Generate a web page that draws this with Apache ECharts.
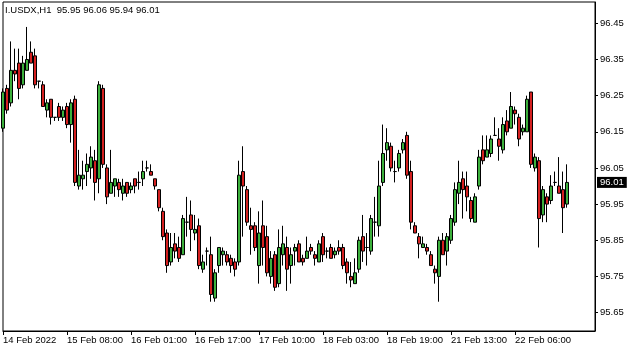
<!DOCTYPE html>
<html><head><meta charset="utf-8">
<script src="https://cdn.jsdelivr.net/npm/echarts@6/dist/echarts.min.js"></script>
<style>html,body{margin:0;padding:0;background:#fff}#c{width:635px;height:352px}</style>
</head><body><div id="c"></div>
<script>
const titleText = 'I.USDX,H1  95.95 96.06 95.94 96.01';
const tickLabels = ['14 Feb 2022','15 Feb 08:00','16 Feb 01:00','16 Feb 17:00','17 Feb 10:00','18 Feb 03:00','18 Feb 19:00','21 Feb 13:00','22 Feb 06:00'];
const yTicks = [95.65,95.75,95.85,95.95,96.05,96.15,96.25,96.35,96.45];
const lastPrice = 96.01;

const open = [96.16,96.27,96.23,96.32,96.34,96.28,96.32,96.37,96.36,96.29,96.28,96.21,96.24,96.19,96.22,96.19,96.22,96.17,96.24,96.00,
96.02,96.04,96.05,96.07,96.02,96.27,96.05,95.98,96.00,96.01,95.98,96.01,95.99,96.02,96.01,96.02,96.05,96.04,96.02,95.99,
95.93,95.87,95.79,95.84,95.83,95.81,95.90,95.92,95.87,95.89,95.77,95.82,95.81,95.69,95.78,95.81,95.81,95.80,95.79,95.79,
96.04,95.99,95.89,95.89,95.78,95.89,95.86,95.75,95.81,95.73,95.81,95.83,95.78,95.82,95.84,95.80,95.80,95.83,95.81,95.79,
95.86,95.82,95.83,95.81,95.83,95.83,95.79,95.75,95.73,95.77,95.86,95.83,95.82,95.90,95.89,96.01,96.10,96.11,96.04,96.05,
96.10,96.14,96.04,95.89,95.86,95.83,95.83,95.81,95.77,95.75,95.85,95.82,95.85,95.90,95.98,96.02,96.00,95.96,95.90,96.00,
96.10,96.08,96.09,96.14,96.13,96.10,96.18,96.16,96.21,96.19,96.15,96.15,96.26,96.05,96.07,95.92,95.97,95.96,96.01,96.00,
95.99,95.95];
const high = [96.27,96.28,96.40,96.38,96.38,96.36,96.44,96.40,96.38,96.29,96.29,96.24,96.24,96.19,96.23,96.22,96.23,96.24,96.25,96.10,
96.07,96.09,96.11,96.10,96.29,96.28,96.06,96.10,96.02,96.02,96.02,96.01,96.01,96.02,96.04,96.07,96.07,96.06,96.02,95.99,
95.94,95.88,95.87,95.87,95.86,95.92,95.97,95.96,95.92,95.91,95.81,95.83,95.86,95.77,95.83,95.83,95.82,95.81,95.80,96.07,
96.11,96.00,95.94,95.90,95.93,95.96,95.89,95.82,95.82,95.88,95.89,95.86,95.83,95.84,95.85,95.81,95.86,95.84,95.82,95.85,
95.87,95.83,95.84,95.83,95.85,95.84,95.80,95.79,95.80,95.86,95.92,95.87,95.92,95.97,96.07,96.17,96.16,96.12,96.07,96.10,
96.13,96.15,96.07,95.90,95.87,95.86,95.84,95.82,95.78,95.86,95.87,95.87,95.92,96.01,96.07,96.04,96.04,95.97,95.98,96.10,
96.14,96.14,96.14,96.19,96.16,96.19,96.21,96.26,96.22,96.20,96.17,96.25,96.26,96.09,96.08,96.00,95.98,96.03,96.04,96.08,
96.04,96.06];
const low = [96.15,96.20,96.22,96.29,96.24,96.27,96.32,96.34,96.27,96.27,96.22,96.19,96.17,96.18,96.18,96.18,96.16,96.12,96.00,95.99,
95.99,96.00,96.02,95.96,95.98,96.05,95.95,95.98,95.97,95.97,95.96,95.97,95.98,95.98,95.99,96.00,96.04,96.03,95.99,95.93,
95.85,95.76,95.78,95.80,95.79,95.81,95.86,95.82,95.85,95.77,95.76,95.78,95.68,95.68,95.76,95.78,95.78,95.76,95.75,95.78,
95.86,95.89,95.81,95.82,95.73,95.78,95.75,95.73,95.71,95.72,95.78,95.71,95.73,95.78,95.79,95.78,95.80,95.81,95.78,95.79,
95.79,95.80,95.80,95.80,95.81,95.77,95.73,95.72,95.73,95.76,95.79,95.78,95.81,95.86,95.86,96.00,96.07,96.04,96.01,96.04,
96.09,96.02,95.88,95.87,95.80,95.83,95.81,95.78,95.73,95.68,95.81,95.78,95.84,95.89,95.95,95.91,95.93,95.90,95.90,95.99,
96.06,96.08,96.08,96.14,96.07,96.09,96.14,96.16,96.17,96.11,96.14,96.15,96.05,96.04,95.83,95.90,95.90,95.95,96.00,95.98,
95.87,95.94];
const close = [96.26,96.21,96.32,96.31,96.27,96.34,96.35,96.34,96.28,96.29,96.22,96.23,96.19,96.19,96.19,96.21,96.17,96.23,96.01,96.03,
96.03,96.06,96.08,96.01,96.28,96.06,95.97,96.01,96.02,95.99,96.00,95.98,96.00,96.00,96.01,96.04,96.05,96.03,96.00,95.94,
95.86,95.78,95.83,95.82,95.80,95.91,95.90,95.88,95.88,95.78,95.79,95.82,95.70,95.76,95.83,95.82,95.79,95.78,95.77,96.03,
96.00,95.90,95.88,95.83,95.87,95.83,95.76,95.80,95.72,95.83,95.84,95.77,95.81,95.83,95.79,95.79,95.82,95.82,95.80,95.84,
95.81,95.82,95.80,95.82,95.82,95.78,95.76,95.74,95.76,95.85,95.82,95.83,95.91,95.90,96.00,96.09,96.12,96.05,96.04,96.09,
96.12,96.03,95.90,95.87,95.84,95.84,95.82,95.78,95.76,95.85,95.81,95.86,95.91,95.99,96.01,95.99,95.97,95.91,95.97,96.08,
96.07,96.10,96.13,96.14,96.11,96.17,96.15,96.22,96.20,96.13,96.16,96.24,96.06,96.08,95.91,95.99,95.95,96.00,96.01,95.98,
95.94,96.01];

const SLOTS = 149;
const categories = [];
for (let i = 0; i < SLOTS; i++) {
  categories.push(i % 16 === 0 && i / 16 < tickLabels.length ? tickLabels[i / 16] : '');
}
const candles = open.map((o, i) => [o, close[i], low[i], high[i]]);
const showTick = (i) => i % 16 === 0 && i / 16 < tickLabels.length;
const FONT = 'Liberation Sans, Arial, sans-serif';

const chart = echarts.init(document.getElementById('c'), null, {renderer: 'canvas'});
chart.setOption({
  animation: false,
  backgroundColor: '#fff',
  title: {
    text: titleText, left: 5, top: 5, padding: 0,
    textStyle: {fontSize: 9.5, fontWeight: 'normal', color: '#000', fontFamily: FONT}
  },
  grid: {left: 3, right: 40, top: 2, bottom: 21, show: true, borderColor: '#000', borderWidth: 1, backgroundColor: '#fff'},
  xAxis: {
    type: 'category', data: categories, boundaryGap: false,
    axisLine: {lineStyle: {color: '#000', width: 1}},
    axisTick: {show: true, interval: showTick, length: 4, lineStyle: {color: '#000'}},
    axisLabel: {interval: showTick, align: 'left', margin: 4, color: '#000', fontSize: 9.5, fontFamily: FONT},
    splitLine: {show: false}
  },
  yAxis: {
    type: 'value', position: 'right', min: 95.599, max: 96.509, scale: true,
    axisLine: {show: true, lineStyle: {color: '#000', width: 1}},
    axisTick: {show: true, length: 3, customValues: yTicks, lineStyle: {color: '#000'}},
    axisLabel: {customValues: yTicks, formatter: (v) => v.toFixed(2), margin: 5, color: '#000', fontSize: 9.5, fontFamily: FONT},
    splitLine: {show: false}
  },
  series: [{
    type: 'candlestick',
    data: candles,
    barWidth: 3,
    itemStyle: {color: '#3cb03c', color0: '#d42020', borderColor: '#000', borderColor0: '#000', borderColorDoji: '#000', borderWidth: 1},
    emphasis: {disabled: true},
    markLine: {
      silent: true, symbol: ['none', 'none'],
      data: [{yAxis: lastPrice}],
      lineStyle: {color: 'rgba(0,0,0,0)', width: 0},
      label: {position: 'end', formatter: lastPrice.toFixed(2), backgroundColor: '#000', color: '#fff', padding: [1, 3, 0, 3], fontSize: 9.5, fontFamily: FONT, distance: 2}
    }
  }]
});
</script></body></html>
